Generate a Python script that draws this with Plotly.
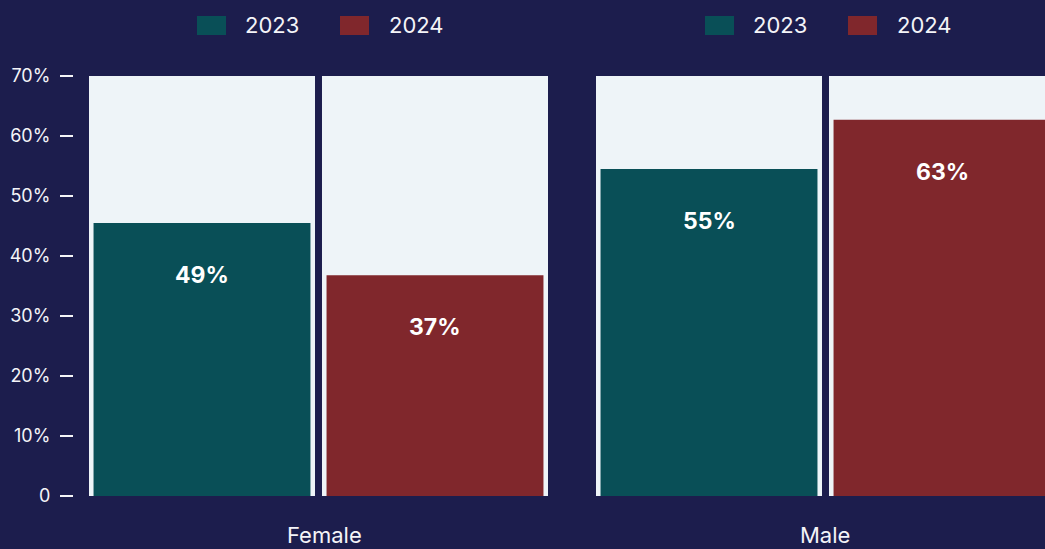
import plotly.graph_objects as go

# data
genders = ["Female", "Male"]
years = ["2023", "2024"]
share_2023 = [45.5, 54.5]
share_2024 = [36.8, 62.7]
labels_2023 = ["49%", "55%"]
labels_2024 = ["37%", "63%"]
y_max = 70
tick_values = [0, 10, 20, 30, 40, 50, 60, 70]
tick_labels = ["0", "10%", "20%", "30%", "40%", "50%", "60%", "70%"]

# style
BG = "#1c1d4d"
PANEL = "#eef4f8"
TEAL = "#094f57"
RED = "#80272c"
TXT = "#f4f4f8"
FONT = "Inter"
year_colors = [TEAL, RED]

W, H = 1045, 549
ML, MR, MT, MB = 73, 0, 76, 53
PW, PH = W - ML - MR, H - MT - MB


def px(x):
    return (x - ML) / PW


def py(y):
    return (H - MB - y) / PH


fig = go.Figure()
axes = ["x", "x2"]
for i, g in enumerate(genders):
    vals = [share_2023[i], share_2024[i]]
    labs = [labels_2023[i], labels_2024[i]]
    # light background columns
    fig.add_trace(go.Bar(
        x=years, y=[y_max] * len(years), width=0.97,
        marker=dict(color=PANEL, line=dict(width=0)),
        xaxis=axes[i], yaxis="y", hoverinfo="skip", showlegend=False,
    ))
    fig.add_trace(go.Bar(
        x=years, y=vals, width=0.931,
        marker=dict(color=year_colors, line=dict(width=0)),
        xaxis=axes[i], yaxis="y", showlegend=False, name=g,
    ))
    # value labels (category index, since "2023" would be read as a number)
    for k, (v, t) in enumerate(zip(vals, labs)):
        fig.add_annotation(
            x=k, y=v, xref=axes[i], yref="y", text=f"<b>{t}</b>",
            showarrow=False, yshift=-52,
            font=dict(family=FONT, size=23, color="white"),
        )

# legends above each facet
legend_spots = [(197, 243, 340, 387), (705, 751, 848, 895)]
for sx1, tx1, sx2, tx2 in legend_spots:
    for sx, tx, yr, c in zip((sx1, sx2), (tx1, tx2), years, year_colors):
        fig.add_shape(type="rect", xref="paper", yref="paper",
                      x0=px(sx), x1=px(sx + 29), y0=py(35), y1=py(16),
                      fillcolor=c, line=dict(width=0))
        fig.add_annotation(xref="paper", yref="paper", x=px(tx), y=py(25.5),
                           xanchor="left", yanchor="middle", showarrow=False,
                           text=yr, font=dict(family=FONT, size=22, color=TXT))

# facet names under each panel
for g, cx in zip(genders, (324, 825)):
    fig.add_annotation(xref="paper", yref="paper", x=px(cx), y=py(535),
                       xanchor="center", yanchor="middle", showarrow=False,
                       text=g, font=dict(family=FONT, size=22, color=TXT))

xcommon = dict(showticklabels=False, showgrid=False, zeroline=False,
               ticks="", showline=False, type="category", fixedrange=True)
fig.update_layout(
    width=W, height=H,
    margin=dict(l=ML, r=MR, t=MT, b=MB),
    paper_bgcolor=BG, plot_bgcolor=BG,
    barmode="overlay",
    showlegend=False,
    font=dict(family=FONT, color=TXT),
    xaxis=dict(domain=[px(89), px(548)], range=[-0.485, 1.485], **xcommon),
    xaxis2=dict(domain=[px(596), 1.0], range=[-0.485, 1.442], **xcommon),
    yaxis=dict(anchor="free", position=0, range=[0, y_max],
               tickvals=tick_values, ticktext=tick_labels,
               ticks="outside", ticklen=13, tickwidth=2, tickcolor=TXT,
               ticklabelstandoff=6, fixedrange=True,
               showgrid=False, zeroline=False, showline=False,
               tickfont=dict(family=FONT, size=18, color=TXT)),
)

fig.write_html("out.html", config={"displayModeBar": False},
               post_script="document.body.style.margin='0';document.body.style.background='%s';" % BG)
